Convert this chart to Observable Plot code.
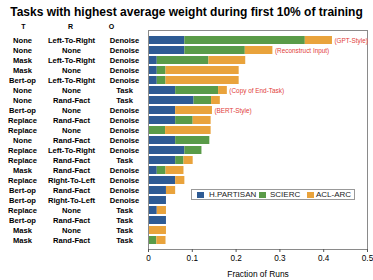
<!DOCTYPE html>
<html>
<head>
<meta charset="utf-8">
<script src="https://cdn.jsdelivr.net/npm/d3@7"></script>
<script src="https://cdn.jsdelivr.net/npm/@observablehq/plot@0.6"></script>
<style>
  html, body { margin: 0; padding: 0; background: white; }
  #wrap { position: relative; width: 373px; height: 280px; font-family: "Liberation Sans", Arial, sans-serif; }
  #title { height: 21px; line-height: 21px; font-size: 12px; font-weight: bold; text-align: center; color: #000; white-space: nowrap; overflow: visible; }
  #title span { position: relative; top: 1.5px; }
  #legend { position: absolute; left: 191px; top: 189px; width: 162px; height: 9px; border: 1px solid #999; background: white; font-size: 8px; color: #222; }
  #legend .sw { position: absolute; top: 1.5px; width: 6.5px; height: 6.5px; }
  #legend .lb { position: absolute; top: 0; line-height: 9.5px; white-space: nowrap; }
  svg { display: block; }
</style>
</head>
<body>
<div id="wrap">
  <div id="title"><span>Tasks with highest average weight during first 10% of training</span></div>
  <div id="chart"></div>
  <div id="legend"></div>
</div>
<script>
const series = ["H.PARTISAN", "SCIERC", "ACL-ARC"];
const colors = ["#2e5b94", "#5a9b48", "#e9a33c"];
const headers = ["T", "R", "O"];

const rowsT = ["None","None","Mask","Mask","Bert-op","None","None","Bert-op","Replace","Replace","None","Replace","Replace","Mask","Replace","Bert-op","Bert-op","Replace","Bert-op","Mask","Mask"];
const rowsR = ["Left-To-Right","None","Left-To-Right","None","Left-To-Right","None","Rand-Fact","None","Rand-Fact","None","Rand-Fact","Left-To-Right","Rand-Fact","Rand-Fact","Right-To-Left","Rand-Fact","Right-To-Left","None","Rand-Fact","None","Rand-Fact"];
const rowsO = ["Denoise","Denoise","Denoise","Denoise","Denoise","Task","Task","Denoise","Denoise","Denoise","Denoise","Denoise","Task","Denoise","Denoise","Denoise","Denoise","Task","Task","Task","Task"];
const notes = ["(GPT-Style)","(Reconstruct Input)","","","","(Copy of End-Task)","","(BERT-Style)","","","","","","","","","","","","",""];

const hp  = [0.083,0.083,0.020,0.020,0.020,0.062,0.104,0.062,0.062,0.000,0.062,0.083,0.062,0.020,0.062,0.041,0.041,0.020,0.041,0.000,0.000];
const sci = [0.275,0.138,0.118,0.020,0.020,0.098,0.040,0.000,0.040,0.039,0.078,0.039,0.019,0.020,0.000,0.000,0.000,0.000,0.000,0.000,0.019];
const acl = [0.062,0.063,0.084,0.167,0.167,0.020,0.020,0.084,0.041,0.104,0.000,0.000,0.021,0.041,0.021,0.021,0.000,0.021,0.000,0.041,0.021];

const xTicks = [0, 0.1, 0.2, 0.3, 0.4, 0.5];
const xLabel = "Fraction of Runs";

const vals = [hp, sci, acl];
const rows = rowsT.map((t, i) => ({id: i, t, r: rowsR[i], o: rowsO[i], note: notes[i], total: hp[i] + sci[i] + acl[i]}));
const long = series.flatMap((s, k) => vals[k].map((v, i) => ({id: i, series: s, value: v})));

const colX = [22, 71, 124];
const headX = [23, 70, 111];
const left = 148;

const chart = Plot.plot({
  width: 373,
  height: 259,
  marginLeft: left,
  marginRight: 6,
  marginTop: 9,
  marginBottom: 31,
  style: {fontFamily: "'Liberation Sans', Arial, sans-serif", fontSize: "8px", background: "white", color: "#000", overflow: "visible"},
  x: {domain: [0, 0.5]},
  y: {domain: d3.range(rows.length), padding: 0.2, axis: null},
  color: {domain: series, range: colors},
  marks: [
    Plot.barX(long, {y: "id", x: "value", fill: "series"}),
    Plot.frame({stroke: "#8a8a8a"}),
    Plot.text(rows, {y: "id", x: "total", text: "note", dx: 2, textAnchor: "start", fill: "#e2403a", fontSize: 6.4}),
    Plot.text(rows, {y: "id", text: "t", frameAnchor: "left", dx: colX[0] - left, textAnchor: "middle", fontWeight: "bold", fontSize: 7.6}),
    Plot.text(rows, {y: "id", text: "r", frameAnchor: "left", dx: colX[1] - left, textAnchor: "middle", fontWeight: "bold", fontSize: 7.6}),
    Plot.text(rows, {y: "id", text: "o", frameAnchor: "left", dx: colX[2] - left, textAnchor: "middle", fontWeight: "bold", fontSize: 7.6}),
    ...headers.map((h, i) => Plot.text([h], {text: d => d, frameAnchor: "top-left", dx: headX[i] - left, dy: -4, lineAnchor: "middle", textAnchor: "middle", fontWeight: "bold", fontSize: 7})),
    Plot.axisX({ticks: xTicks, tickSize: 3, tickPadding: 3, stroke: "#555", tickFormat: d => d === 0 ? "0" : d3.format(".1f")(d), label: null, fontSize: 8.2}),
    Plot.text([xLabel], {text: d => d, frameAnchor: "bottom", dy: 25, lineAnchor: "middle", textAnchor: "middle", fontSize: 8.4})
  ]
});
document.getElementById("chart").appendChild(chart);

const lg = document.getElementById("legend");
const swX = [5, 67, 115];
const lbX = [17, 78, 124];
series.forEach((s, i) => {
  const sw = document.createElement("div");
  sw.className = "sw"; sw.style.left = swX[i] + "px"; sw.style.background = colors[i];
  lg.appendChild(sw);
  const lb = document.createElement("div");
  lb.className = "lb"; lb.style.left = lbX[i] + "px"; lb.textContent = s;
  lg.appendChild(lb);
});
</script>
</body>
</html>
